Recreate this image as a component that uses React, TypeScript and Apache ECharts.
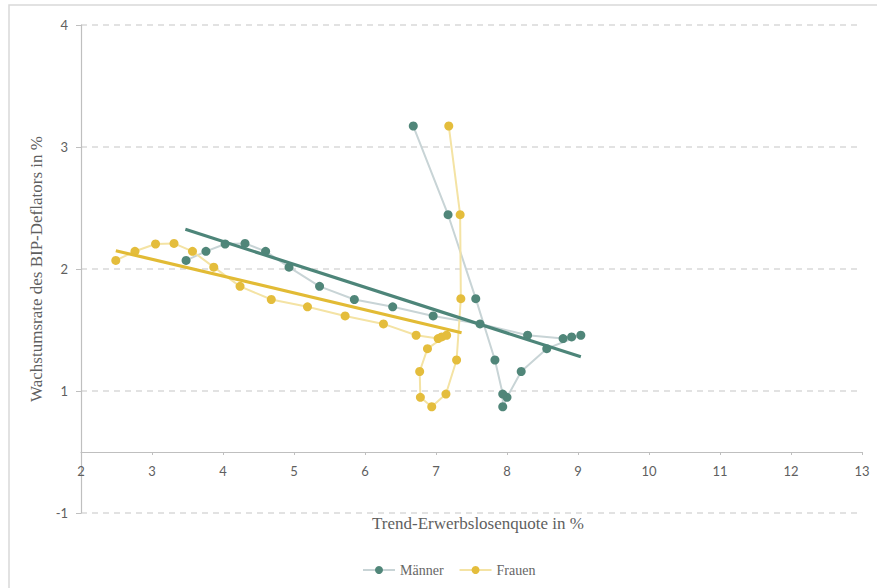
import React, { useEffect, useRef } from "react";
import * as echarts from "echarts";

// Trend-Erwerbslosenquote (x) und Wachstumsrate des BIP-Deflators (y)
const unemploymentMen = [3.48, 3.76, 4.03, 4.31, 4.6, 4.93, 5.36, 5.85, 6.39, 6.96, 7.62, 8.29, 8.79, 8.91, 9.04, 8.56, 8.2, 8.0, 7.94, 7.94, 7.83, 7.56, 7.17, 6.68];
const unemploymentWomen = [2.49, 2.76, 3.05, 3.31, 3.57, 3.87, 4.24, 4.68, 5.19, 5.72, 6.26, 6.72, 7.03, 7.08, 7.15, 6.88, 6.77, 6.78, 6.94, 7.14, 7.29, 7.35, 7.34, 7.18];
const deflatorGrowth = [2.07, 2.145, 2.205, 2.21, 2.145, 2.015, 1.858, 1.75, 1.69, 1.615, 1.55, 1.457, 1.43, 1.443, 1.457, 1.347, 1.16, 0.948, 0.871, 0.975, 1.254, 1.757, 2.445, 3.172];

const menTrendX = [3.47, 9.04];
const menTrendY = [2.325, 1.28];
const womenTrendX = [2.49, 7.36];
const womenTrendY = [2.15, 1.478];

const yTickValues = [0, 1, 2, 3, 4];
const yTickLabels = ["-1", "1", "2", "3", "4"];

const xAxisName = "Trend-Erwerbslosenquote in %";
const yAxisName = "Wachstumsrate des BIP-Deflators in %";
const seriesNames = ["Männer", "Frauen"];

const zip = (xs: number[], ys: number[]) => xs.map((x, i) => [x, ys[i]]);

export default function App() {
  const ref = useRef<HTMLDivElement>(null);
  useEffect(() => {
    if (!ref.current) return;
    const chart = echarts.init(ref.current, null, { renderer: "svg" });
    const serif = "Liberation Serif";
    const sans = "Lato";
    const textColor = "#5f5f5f";
    chart.setOption({
      animation: false,
      backgroundColor: "#ffffff",
      graphic: [
        {
          type: "rect",
          shape: { x: 9, y: 5, width: 900, height: 620 },
          style: { fill: "none", stroke: "#d9d9d9", lineWidth: 1.5 },
          silent: true,
          z: -10,
        },
      ],
      grid: { left: 81, right: 15, top: 25, bottom: 75, containLabel: false },
      legend: {
        data: seriesNames,
        left: 357,
        top: 558,
        itemWidth: 32,
        itemHeight: 10,
        itemGap: 15,
        textStyle: { fontFamily: serif, fontSize: 14, color: "#666666" },
      },
      xAxis: {
        type: "value",
        min: 2,
        max: 13,
        interval: 1,
        offset: -61,
        name: xAxisName,
        nameLocation: "middle",
        nameGap: 63,
        nameTextStyle: { fontFamily: serif, fontSize: 17, color: textColor, padding: [0, 0, 0, 13] },
        axisLine: { onZero: false, lineStyle: { color: "#bfbfbf", width: 1.2 } },
        axisTick: { show: true, length: 3, lineStyle: { color: "#bfbfbf" } },
        axisLabel: { fontFamily: sans, fontSize: 13, color: textColor, margin: 12 },
        splitLine: { show: false },
      },
      yAxis: {
        type: "value",
        min: 0,
        max: 4,
        interval: 1,
        name: yAxisName,
        nameLocation: "middle",
        nameGap: 31,
        nameTextStyle: { fontFamily: serif, fontSize: 17, color: textColor },
        axisLine: { show: true, lineStyle: { color: "#bfbfbf", width: 1.2 } },
        axisTick: { show: true, length: 5, lineStyle: { color: "#bfbfbf" } },
        axisLabel: {
          fontFamily: sans,
          fontSize: 13,
          color: textColor,
          margin: 13,
          formatter: (v: number) => {
            const i = yTickValues.indexOf(v);
            return i >= 0 ? yTickLabels[i] : "";
          },
        },
        splitLine: { show: true, lineStyle: { color: "#d9d9d9", type: [6, 5], width: 1.5 } },
      },
      series: [
        {
          name: seriesNames[0],
          type: "line",
          data: zip(unemploymentMen, deflatorGrowth),
          symbol: "circle",
          symbolSize: 9,
          lineStyle: { color: "#c8d4d6", width: 2 },
          itemStyle: { color: "#508679" },
          z: 3,
        },
        {
          name: seriesNames[1],
          type: "line",
          data: zip(unemploymentWomen, deflatorGrowth),
          symbol: "circle",
          symbolSize: 9,
          lineStyle: { color: "#f4e3a4", width: 2 },
          itemStyle: { color: "#e4bd3c" },
          z: 3,
        },
        {
          name: "Trend Männer",
          type: "line",
          data: zip(menTrendX, menTrendY),
          symbol: "none",
          lineStyle: { color: "#4d8579", width: 3.2 },
          z: 4,
        },
        {
          name: "Trend Frauen",
          type: "line",
          data: zip(womenTrendX, womenTrendY),
          symbol: "none",
          lineStyle: { color: "#e2bb35", width: 3.2 },
          z: 4,
        },
      ],
    });
    return () => chart.dispose();
  }, []);
  return (
    <div
      ref={ref}
      style={{ position: "absolute", left: 0, top: 0, width: 877, height: 588 }}
    />
  );
}
